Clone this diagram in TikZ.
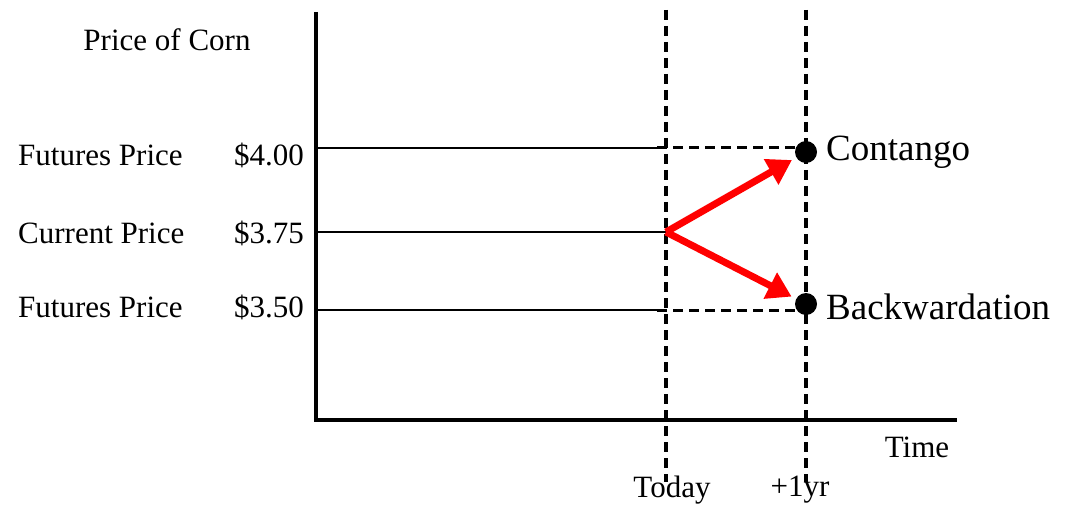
\documentclass[tikz,border=0pt]{standalone}
\usepackage{fontspec}
\setmainfont{Liberation Serif}
\usetikzlibrary{arrows.meta, positioning, calc}

\begin{document}
\begin{tikzpicture}[x=1pt, y=-1pt,
    lbl/.style={inner sep=0pt, font=\fontsize{31}{36}\selectfont},
    biglbl/.style={inner sep=0pt, font=\fontsize{37}{42}\selectfont},
    axisline/.style={line width=4.5pt},
    priceline/.style={line width=1.8pt},
    guide/.style={line width=3.5pt, dash pattern=on 10pt off 6pt},
    move/.style={red, line width=7pt, -{Triangle[length=24pt, width=28pt]}, shorten >=5pt},
    marker/.style={circle, fill=black, inner sep=0pt, minimum size=22pt}]
\useasboundingbox (0,0) rectangle (1076,505);
% axes
\coordinate (origin) at (316,420);
\coordinate (ytop) at (316,12);
\coordinate (xend) at (957,420);
\draw[axisline] (ytop) -- (origin) -- (xend);
% time guides
\coordinate (today top) at (666,10);
\coordinate (today bot) at (666,482);
\coordinate (year top) at (806,10);
\coordinate (year bot) at (806,482);
\draw[guide] (today top) -- (today bot);
\draw[guide] (year top) -- (year bot);
% price levels
\coordinate (p400) at (318,148);
\coordinate (p375) at (318,232);
\coordinate (p350) at (318,310);
\coordinate (q400) at (657,148);
\coordinate (q350) at (657,310);
\coordinate (now) at (666,232);
\node[marker] (contango) at (806,152) {};
\node[marker] (backw) at (806,304) {};
\draw[priceline] (p400) -- (q400);
\draw[priceline] (p375) -- (now);
\draw[priceline] (p350) -- (q350);
\draw[guide, line width=3pt] (q400) -- (806,148);
\draw[guide, line width=3pt] (q350) -- (806,310);
\draw[move] (now) -- (contango);
\draw[move] (now) -- (backw);
% labels
\node[lbl] (corn) at (167,40) {Price of Corn};
\node[lbl, anchor=west] (fut1) at (18,155) {Futures Price};
\node[lbl, anchor=west] (cur) at (18,233) {Current Price};
\node[lbl, anchor=west] (fut2) at (18,307) {Futures Price};
\node[lbl, anchor=east] (v400) at (304,155) {\$4.00};
\node[lbl, anchor=east] (v375) at (304,233) {\$3.75};
\node[lbl, anchor=east] (v350) at (304,307) {\$3.50};
\node[biglbl, anchor=west] (contlbl) at (826,152) {Contango};
\node[biglbl, anchor=west] (backlbl) at (826,307) {Backwardation};
\node[lbl] (time) at (917,447) {Time};
\node[lbl] (todaylbl) at (672,490) {Today};
\node[lbl] (yearlbl) at (800,490) {+1yr};
\end{tikzpicture}
\end{document}
